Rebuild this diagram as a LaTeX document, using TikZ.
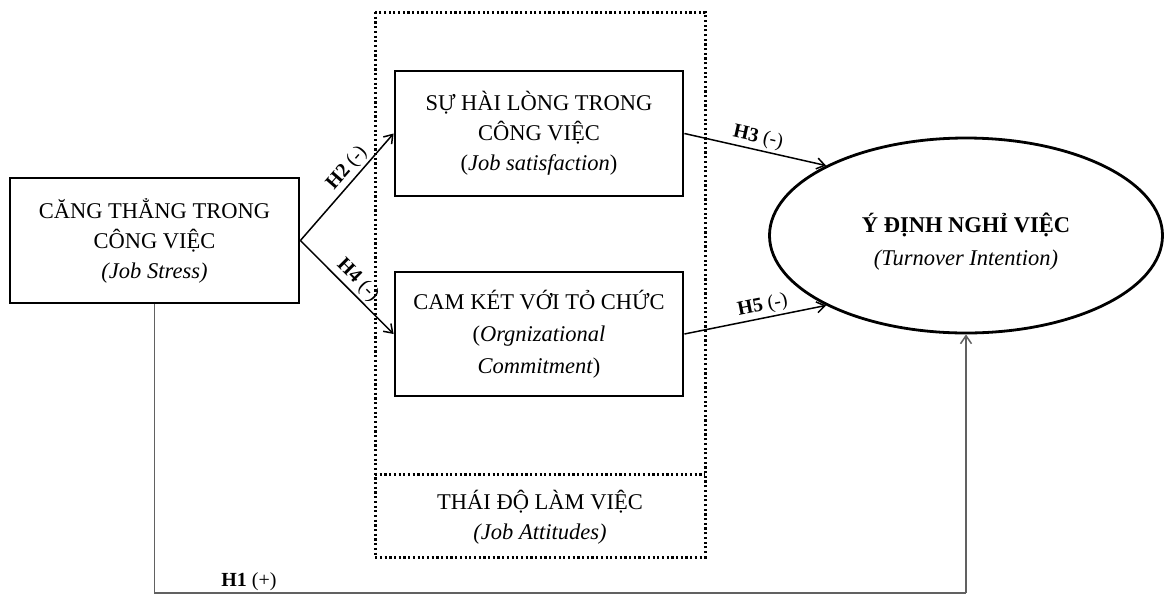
\documentclass[tikz,border=0pt]{standalone}
\usepackage{fontspec}
\setmainfont{Liberation Serif}
\usetikzlibrary{arrows.meta,shapes.geometric}
\begin{document}
\begin{tikzpicture}[x=1pt,y=-1pt,
  box/.style={draw,line width=2.8pt,rectangle,inner sep=0pt,align=center,
    font=\fontsize{22.5}{30}\selectfont},
  dotbox/.style={draw,line width=3pt,dash pattern=on 2.2pt off 2.5pt},
  link/.style={line width=1.5pt,-{Straight Barb[length=8pt,width=11pt,line width=1.5pt]}},
  hlabel/.style={sloped,above,inner sep=2.5pt,font=\fontsize{20}{22}\selectfont},
  direct/.style={line width=1.7pt,draw=black!62}
]
\useasboundingbox (0,0) rectangle (1165,595);

% outer frame of the job attitudes group
\draw[dotbox] (375,12) rectangle (705,557);
\draw[dotbox] (375,474) -- (705,474);
\node[align=center,font=\fontsize{22.5}{30}\selectfont] (att) at (540,517)
  {THÁI ĐỘ LÀM VIỆC\\\textit{(Job Attitudes)}};

% constructs
\node[box,minimum width=289pt,minimum height=125pt] (js) at (154.5,240.5)
  {CĂNG THẲNG TRONG\\CÔNG VIỆC\\\textit{(Job Stress)}};
\node[box,minimum width=288pt,minimum height=125pt] (shl) at (539,133.5)
  {SỰ HÀI LÒNG  TRONG\\CÔNG VIỆC\\(\textit{Job satisfaction})};
\node[box,minimum width=288pt,minimum height=124pt,
  font=\fontsize{22.5}{32}\selectfont] (cam) at (539,334)
  {CAM KÉT VỚI TỎ CHỨC\\(\textit{Orgnizational}\\\textit{Commitment})};
\node[draw,ellipse,line width=2.8pt,inner sep=0pt,minimum width=393pt,
  minimum height=195pt] (ti) at (966,235.5) {};
\node[align=center,font=\fontsize{22.5}{33}\selectfont] (tit) at (966,242)
  {\textbf{Ý ĐỊNH NGHỈ VIỆC}\\\textit{(Turnover Intention)}};

% hypothesised paths
\draw[link] (js.east) -- node[hlabel,pos=0.6] {\textbf{H2} (-)} (shl.west);
\draw[link] (js.east) -- node[hlabel,pos=0.52] {\textbf{H4} (-)} (cam.west);
\draw[link] (shl.east) -- node[hlabel,pos=0.5] {\textbf{H3} (-)} (ti.north west);
\draw[link] (cam.east) -- node[hlabel,pos=0.57] {\textbf{H5} (-)} (ti.south west);

\coordinate (c1) at (154.5,593);
\coordinate (c2) at (966,593);
\draw[direct] (js.south) -- (c1) -- (c2);
\draw[direct,-{Straight Barb[length=8pt,width=11pt,line width=1.5pt]}] (c2) -- (ti.south);
\node[font=\fontsize{20}{22}\selectfont,anchor=base] (h1) at (249,586) {\textbf{H1} (+)};
\end{tikzpicture}
\end{document}
